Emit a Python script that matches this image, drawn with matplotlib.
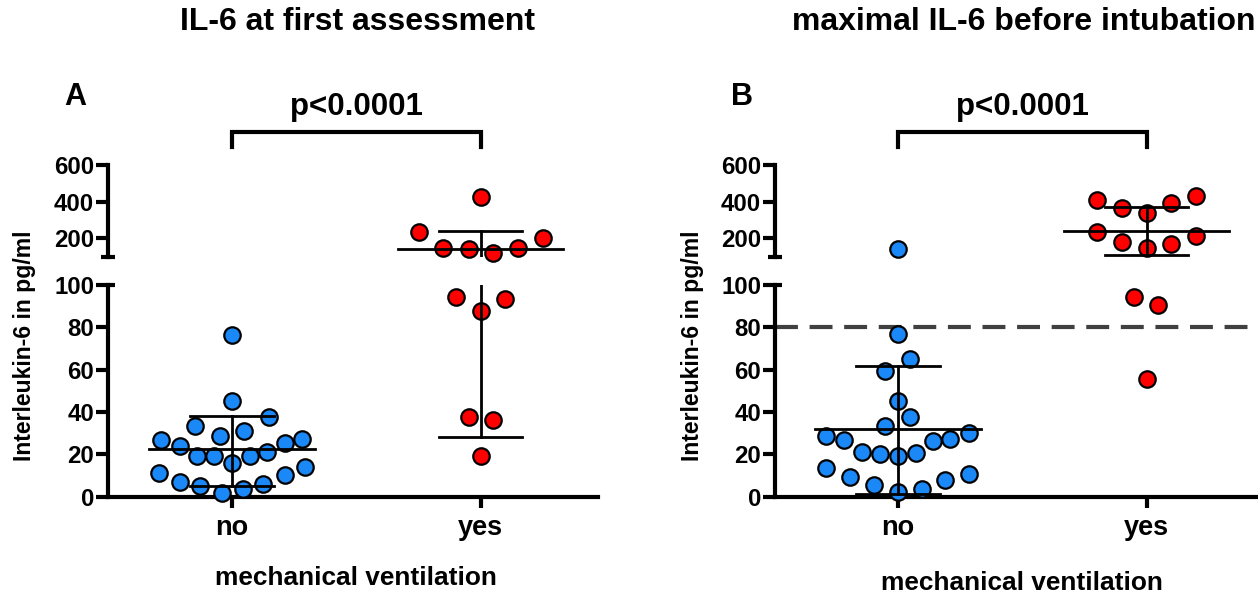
#!/usr/bin/env python3

import matplotlib
matplotlib.use('Agg')
import matplotlib.pyplot as plt
import matplotlib.transforms as mtrans
import numpy as np

plt.rcParams['font.family'] = ['Liberation Sans', 'DejaVu Sans']
plt.rcParams['font.weight'] = 'bold'

groups = ['no', 'yes']
titles = ['IL-6 at first assessment', 'maximal IL-6 before intubation']
letters = ['A', 'B']
ylabel = 'Interleukin-6 in pg/ml'
xlabel = 'mechanical ventilation'
ptext = 'p<0.0001'

# IL-6 values (pg/ml)
a_no = [76.3, 45.2, 37.6, 33.3, 28.9, 30.9, 27.0, 23.8, 27.3, 25.4, 19.4, 19.0,
        19.4, 21.0, 15.8, 11.2, 13.9, 6.8, 5.2, 1.6, 3.6, 6.0, 10.3]
a_yes = [427, 236, 200, 145.5, 142, 118, 149, 94.5, 93.4, 87.7, 37.6, 36.3, 19.0]
b_no = [141.6, 76.7, 64.9, 59.5, 45.2, 37.8, 33.5, 28.8, 26.8, 26.5, 27.1, 29.9,
        21.3, 20.0, 19.2, 20.5, 13.7, 9.4, 10.7, 7.9, 5.5, 2.4, 3.5]
b_yes = [409, 367, 336, 394, 431, 233, 178, 149, 167, 213, 94.2, 90.6, 55.6]

# median and interquartile range as drawn: (median, q1, q3)
a_stats = [(22.3, 5.2, 38.2), (140, 28.4, 241)]
b_stats = [(32.0, 1.3, 61.9), (241, 109, 369)]
cutoff_b = 80

# horizontal scatter of the dots (swarm layout, in category units)
a_no_dx = [0, 0, 0.15, -0.148, -0.05, 0.05, -0.285, -0.211, 0.282, 0.214, -0.141, -0.071,
           0.071, 0.141, 0, -0.295, 0.295, -0.211, -0.128, -0.04, 0.044, 0.125, 0.212]
a_yes_dx = [0, -0.248, 0.251, -0.149, -0.048, 0.05, 0.15, -0.1, 0.1, 0, -0.048, 0.051, 0]
b_no_dx = [0, 0, 0.05, -0.051, 0, 0.05, -0.051, -0.288, -0.217, 0.141, 0.211, 0.286,
           -0.143, -0.074, 0, 0.071, -0.288, -0.192, 0.286, 0.188, -0.098, 0, 0.097]
b_yes_dx = [-0.2, -0.1, 0, 0.1, 0.2, -0.2, -0.1, 0, 0.1, 0.2, -0.05, 0.048, 0]

W, H = 1258, 594
BLUE = '#1A88F7'
RED = '#FF0000'


def fx(x):
    return x / W


def fy(y):
    return 1 - y / H


def cap(ax, y_axes, ax_w_px):
    # little horizontal stub where the axis is broken
    d = 7.0 / ax_w_px
    ax.plot([-d, d], [y_axes, y_axes], transform=ax.transAxes, color='black',
            lw=3, clip_on=False, solid_capstyle='butt')


def panel(fig, left, right, xno, xyes, data, dxs, stats, title, letter, cutoff=None,
          xlab_y=578):
    ppu = xyes - xno
    xlim = (-(xno - left) / ppu, 1 + (right - xyes) / ppu)
    axw = right - left
    lo = fig.add_axes([fx(left), fy(496.7), fx(axw), (496.7 - 285) / H])
    hi = fig.add_axes([fx(left), fy(256.7), fx(axw), (256.7 - 165) / H])

    lo.set_ylim(0, 100)
    hi.set_ylim(100, 600)
    for ax in (lo, hi):
        ax.set_xlim(*xlim)
        ax.set_facecolor('none')
        for s in ('top', 'right'):
            ax.spines[s].set_visible(False)
        ax.spines['left'].set_linewidth(3)
        ax.tick_params(axis='y', width=3, length=9, pad=1, labelsize=17.3)
    lo.spines['bottom'].set_linewidth(3)
    hi.spines['bottom'].set_visible(False)
    hi.set_xticks([])
    lo.set_yticks([0, 20, 40, 60, 80, 100])
    hi.set_yticks([200, 400, 600])
    lo.set_xticks([0, 1])
    lo.set_xticklabels(groups, fontsize=19.5)
    lo.tick_params(axis='x', width=3, length=8, pad=5)
    for lab in lo.get_yticklabels() + hi.get_yticklabels() + lo.get_xticklabels():
        lab.set_fontweight('bold')

    cap(hi, 0, axw)
    lo.plot([0, 7.0 / axw], [1, 1], transform=lo.transAxes, color='black', lw=3,
            clip_on=False, solid_capstyle='butt')

    if cutoff is not None:
        lo.axhline(cutoff, color='#404040', lw=3, ls=(0, (5.5, 2.8)), zorder=1,
                   clip_on=False)

    for i, (vals, dx, col) in enumerate(zip(data, dxs, [BLUE, RED])):
        vals = np.array(vals, dtype=float)
        xs = i + np.array(dx)
        low = vals <= 100
        lo.scatter(xs[low], vals[low], s=140, c=col, edgecolors='black', linewidths=1.6,
                   zorder=3, clip_on=False)
        hi.scatter(xs[~low], vals[~low], s=140, c=col, edgecolors='black', linewidths=1.6,
                   zorder=3, clip_on=False)
        med, q1, q3 = stats[i]
        for ax in (lo, hi):
            ax.plot([i - 0.332, i + 0.332], [med, med], color='black', lw=2, zorder=4)
            ax.plot([i - 0.169, i + 0.169], [q1, q1], color='black', lw=2, zorder=4)
            ax.plot([i - 0.169, i + 0.169], [q3, q3], color='black', lw=2, zorder=4)
            ax.plot([i, i], [q1, q3], color='black', lw=2, zorder=4)

    # significance bracket
    tr = mtrans.blended_transform_factory(hi.transData, fig.transFigure)
    hi.plot([0, 0, 1, 1], [fy(147), fy(132), fy(132), fy(147)], transform=tr,
            color='black', lw=3, clip_on=False, solid_joinstyle='miter')
    fig.text(fx(xno + ppu / 2), fy(107), ptext, fontsize=22.5, ha='center', va='center')

    fig.text(fx((xno + xyes) / 2 + 1), fy(22), title, fontsize=23, ha='center', va='center')
    fig.text(fx(left - 33), fy(97), letter, fontsize=22, ha='center', va='center')
    fig.text(fx(left - 83), fy(346), ylabel, fontsize=16.6, rotation=90,
             ha='center', va='center')
    fig.text(fx((xno + xyes) / 2), fy(xlab_y), xlabel, fontsize=18.9, ha='center',
             va='center')
    return lo, hi


def main():
    fig = plt.figure(figsize=(W / 100, H / 100), dpi=100)
    panel(fig, 108, 598, 232, 480.5, [a_no, a_yes], [a_no_dx, a_yes_dx], a_stats,
          titles[0], letters[0])
    panel(fig, 775, 1258, 898, 1146.5, [b_no, b_yes], [b_no_dx, b_yes_dx], b_stats,
          titles[1], letters[1], cutoff=cutoff_b, xlab_y=583)
    fig.savefig('out.png', dpi=100)


if __name__ == "__main__":
    main()
